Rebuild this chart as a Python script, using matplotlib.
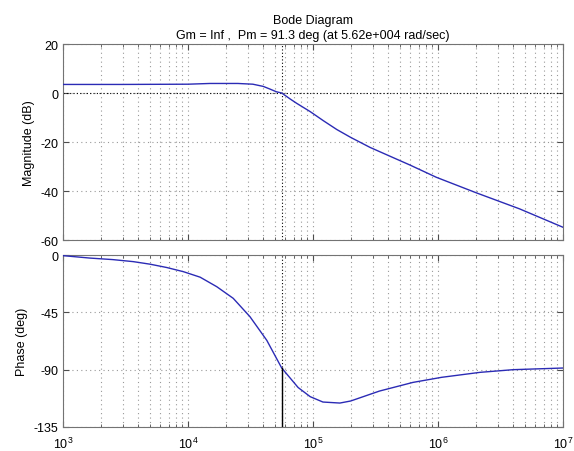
import matplotlib
matplotlib.use("Agg")
import matplotlib.pyplot as plt
from matplotlib.ticker import LogLocator, NullFormatter, FixedLocator

plt.rcParams['font.family'] = ['Liberation Sans', 'DejaVu Sans']
plt.rcParams['axes.unicode_minus'] = False

# Data
freq_mag = [1e3, 3e3, 1e4, 1.5e4, 2.5e4, 3.3e4, 4.0e4, 4.53e4, 5.1e4, 5.62e4, 6.55e4,
            7.4e4, 9.5e4, 1.21e5, 1.55e5, 2e5, 2.86e5, 4.13e5, 5.97e5, 9.7e5,
            2.04e6, 4.5e6, 1e7]
mag_db = [3.5, 3.5, 3.6, 3.9, 3.9, 3.6, 2.7, 1.6, 0.5, 0.0, -2.4,
          -4.2, -7.6, -11.3, -14.9, -18.1, -22.2, -25.8, -29.4, -34.4,
          -40.8, -47.3, -54.8]

freq_phase = [1e3, 1.64e3, 2.5e3, 3.65e3, 4.97e3, 6.75e3, 9.2e3, 1.25e4, 1.7e4, 2.3e4,
              3.13e4, 4.27e4, 5.45e4, 5.62e4, 7.6e4, 9.5e4, 1.2e5, 1.64e5, 2e5,
              3.4e5, 6.3e5, 1.07e6, 2.17e6, 4e6, 1e7]
phase_deg = [-0.5, -2.4, -3.6, -5.2, -7.2, -9.8, -13.1, -17.4, -24.9, -34.0,
             -48.4, -67.0, -86.3, -88.7, -104, -111.2, -115.4, -116.2, -114.6,
             -106.8, -100, -96, -92.1, -90, -88.7]

wcp = 5.62e4
pm_phase = -88.7

mag_ticks = [20, 0, -20, -40, -60]
phase_ticks = [0, -45, -90, -135]
title_lines = ["Bode Diagram", "Gm = Inf ,  Pm = 91.3 deg (at 5.62e+004 rad/sec)"]

line_color = '#2b2bb5'
grid_kw = dict(color='0.6', linestyle=(0, (1, 3)), linewidth=0.8)

fig = plt.figure(figsize=(5.74, 4.52), dpi=100)
ax1 = fig.add_axes([0.1098, 0.4668, 0.871, 0.4336])
ax2 = fig.add_axes([0.1098, 0.0531, 0.871, 0.3805])

for ax in (ax1, ax2):
    ax.set_xscale('log')
    ax.set_xlim(1e3, 1e7)
    ax.xaxis.set_major_locator(LogLocator(base=10, numticks=10))
    ax.xaxis.set_minor_locator(LogLocator(base=10, subs=range(2, 10), numticks=20))
    ax.xaxis.set_minor_formatter(NullFormatter())
    ax.grid(True, which='major', axis='both', **grid_kw)
    ax.grid(True, which='minor', axis='x', **grid_kw)
    ax.tick_params(which='both', direction='in', top=True, right=True,
                   labelsize=9, colors='0.3', labelcolor='black')
    ax.tick_params(which='major', length=4)
    ax.tick_params(which='minor', length=2)
    for s in ax.spines.values():
        s.set_color('0.45')
    ax.set_axisbelow(True)

ax1.plot(freq_mag, mag_db, color=line_color, linewidth=1.0, zorder=3)
ax1.axhline(0, color='black', linestyle=(0, (1, 2)), linewidth=0.8, zorder=2)
ax1.axvline(wcp, color='black', linestyle=(0, (1, 2)), linewidth=0.8, zorder=2)
ax1.set_ylim(-60, 20)
ax1.yaxis.set_major_locator(FixedLocator(mag_ticks))
ax1.tick_params(axis='x', which='both', labelbottom=False)
ax1.set_ylabel('Magnitude (dB)', fontsize=9)

ax2.plot(freq_phase, phase_deg, color=line_color, linewidth=1.0, zorder=3)
ax2.axvline(wcp, color='black', linestyle=(0, (1, 2)), linewidth=0.8, zorder=2)
ax2.plot([wcp, wcp], [-135, pm_phase], color='black', linewidth=1.0, zorder=4)
ax2.set_ylim(-135, 0)
ax2.yaxis.set_major_locator(FixedLocator(phase_ticks))
ax2.tick_params(axis='x', which='major', pad=6)
ax2.set_ylabel('Phase (deg)', fontsize=9)

ax1.set_title("\n".join(title_lines), fontsize=9, pad=4, linespacing=1.4)

fig.savefig('out.png', dpi=100)
